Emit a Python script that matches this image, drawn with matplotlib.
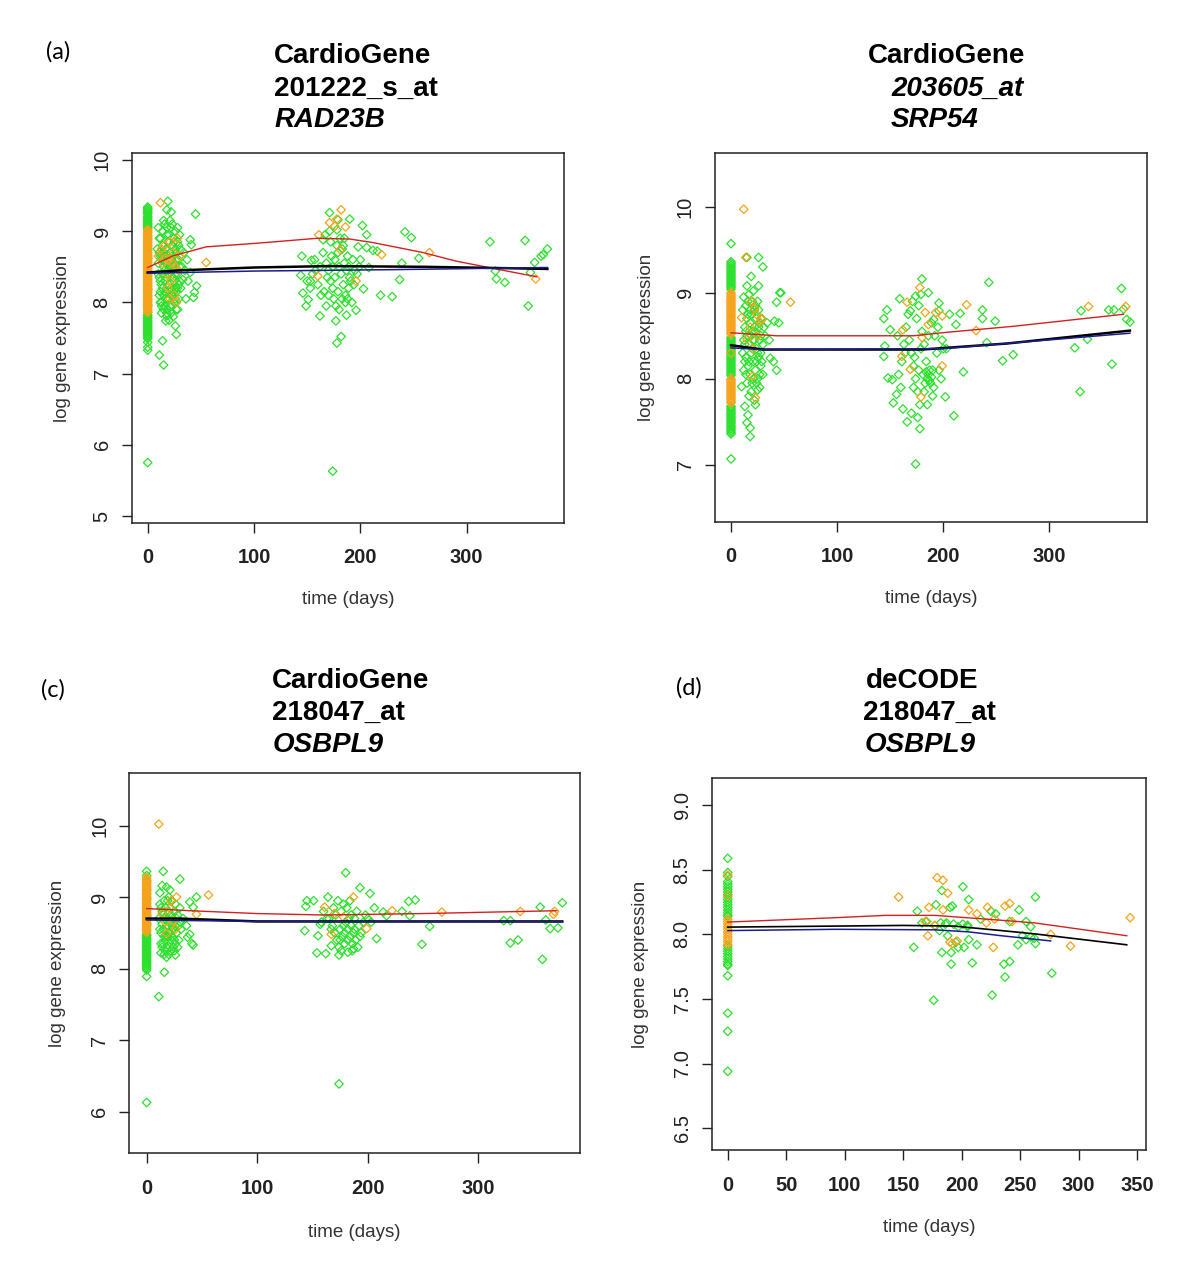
import numpy as np
import matplotlib
matplotlib.use("Agg")
import matplotlib.pyplot as plt

plt.rcParams["font.family"] = ["Liberation Sans", "DejaVu Sans"]

GREEN = "#2ee02e"
ORANGE = "#f5a31a"

# ---------------- panel (a): CardioGene 201222_s_at RAD23B ----------------
a_day0_green = [9.34, 9.32, 9.3, 9.28, 9.26, 9.24, 9.21, 9.19, 9.17, 9.15, 9.13, 9.11, 9.09,
                9.07, 9.05, 9.03, 8.62, 8.41, 8.18, 7.96, 7.86, 7.83, 7.81, 7.79, 7.77, 7.75,
                7.73, 7.71, 7.69, 7.67, 7.65, 7.63, 7.61, 7.59, 7.57, 7.55, 7.53, 7.51, 7.49,
                7.44, 7.37, 7.33, 5.75]
a_day0_orange = [9.02, 9.0, 8.98, 8.96, 8.94, 8.92, 8.9, 8.88, 8.86, 8.84, 8.82, 8.8, 8.78, 8.76,
                 8.74, 8.72, 8.7, 8.68, 8.66, 8.64, 8.62, 8.6, 8.58, 8.56, 8.54, 8.52, 8.5, 8.48,
                 8.46, 8.44, 8.42, 8.4, 8.38, 8.36, 8.34, 8.32, 8.3, 8.28, 8.26, 8.24, 8.22, 8.2,
                 8.18, 8.16, 8.14, 8.12, 8.1, 8.08, 8.06, 8.04, 8.02, 8.0, 7.98, 7.96, 7.94, 7.92,
                 7.9, 7.88, 7.86]
a_green = [(10, 9.05), (12, 8.9), (14, 8.8), (11, 8.7), (13, 8.6), (15, 8.5), (10, 8.4), (12, 8.3),
           (14, 8.2), (11, 8.1), (13, 8.0), (15, 7.9), (16, 9.1), (18, 8.95), (17, 8.75), (19, 8.65),
           (16, 8.45), (18, 8.35), (20, 8.25), (17, 8.15), (19, 8.05), (21, 7.95), (18, 7.85), (20, 7.75),
           (22, 9.05), (24, 8.9), (23, 8.8), (21, 8.7), (25, 8.55), (22, 8.45), (24, 8.35), (26, 8.2),
           (23, 8.1), (25, 8.0), (27, 7.9), (26, 9.0), (28, 8.85), (27, 8.7), (29, 8.6), (28, 8.4),
           (30, 8.3), (27, 8.15), (29, 8.05), (24, 7.8), (22, 8.6), (20, 8.5), (18, 8.55), (16, 8.65),
           (14, 8.4), (12, 8.0), (26, 8.75), (30, 8.95), (32, 8.5), (31, 8.2), (15, 9.15), (23, 9.1),
           (28, 9.05), (11, 7.26), (15, 7.12), (14, 7.46), (26, 7.67), (27, 7.55), (19, 9.42), (18, 9.30),
           (22, 9.27), (45, 9.24), (37, 8.6), (41, 8.81), (40, 8.42), (46, 8.23), (44, 8.14), (36, 8.05),
           (43, 8.07), (33, 8.32), (40, 8.88), (31, 8.74), (17, 7.74), (18, 7.81), (28, 7.9), (13, 7.85),
           (35, 8.45), (38, 8.3), (34, 8.7),
           (9, 8.75), (10, 8.55), (11, 8.35), (12, 8.15), (13, 7.95), (14, 9.0), (15, 8.7), (16, 8.3),
           (17, 8.05), (18, 9.05), (19, 8.85), (20, 8.4), (21, 8.15), (22, 7.85), (23, 8.65), (24, 8.5),
           (25, 8.3), (26, 8.05), (27, 8.6), (28, 8.2), (29, 8.8), (30, 8.5), (21, 9.15), (17, 8.55),
           (13, 8.25), (25, 8.85), (19, 8.45), (23, 7.95), (15, 8.1), (11, 8.9), (16, 7.95), (20, 8.95),
           (24, 8.15), (14, 8.65), (22, 8.2), (26, 8.4), (12, 8.65), (19, 7.9), (29, 8.25),
           (171, 9.26), (179, 9.16), (190, 9.17), (178, 9.02), (165, 8.88), (202, 9.08), (206, 8.95),
           (198, 8.78), (206, 8.77), (145, 8.65), (154, 8.59), (144, 8.38), (146, 8.13), (151, 8.04),
           (149, 7.95), (153, 8.3), (162, 7.81), (168, 7.95), (177, 7.74), (178, 7.43), (182, 7.52),
           (174, 5.63), (196, 7.89), (187, 7.82), (203, 8.19), (208, 8.49), (212, 8.73), (216, 8.72),
           (165, 8.7), (168, 8.55), (170, 8.45), (172, 8.3), (174, 8.2), (176, 8.6), (178, 8.8), (180, 8.5),
           (182, 8.4), (184, 8.25), (186, 8.1), (188, 8.65), (190, 8.35), (192, 8.0), (175, 8.05),
           (177, 7.95), (179, 8.15), (181, 8.9), (183, 8.75), (185, 8.55), (187, 8.45), (189, 8.2),
           (191, 8.3), (193, 8.6), (195, 8.45), (197, 8.4), (199, 8.5), (162, 8.5), (158, 8.45),
           (160, 8.25), (163, 8.1), (167, 8.95), (171, 9.0), (173, 8.65), (169, 8.35), (186, 8.0),
           (180, 7.9), (184, 8.8), (194, 8.25), (200, 8.6), (157, 8.6), (155, 8.4), (150, 8.3), (153, 8.2),
           (166, 8.15), (188, 8.05), (174, 8.5), (179, 8.7), (176, 8.35), (183, 8.05), (172, 8.85),
           (189, 8.5), (170, 8.1), (185, 8.9),
           (219, 8.1), (230, 8.08), (237, 8.32), (239, 8.55), (242, 8.99), (248, 8.91), (255, 8.62),
           (322, 8.85), (328, 8.33), (336, 8.28), (355, 8.87), (358, 7.95), (360, 8.42), (364, 8.56),
           (370, 8.65), (372, 8.67), (376, 8.75), (327, 8.44)]
a_orange = [(12, 9.40), (10, 8.65), (55, 8.56), (16, 8.8), (20, 8.6), (24, 8.7), (18, 8.4), (22, 8.3),
            (26, 8.5), (28, 8.9), (14, 8.55), (25, 8.1), (30, 8.65), (21, 8.85), (19, 8.2), (27, 8.0),
            (17, 8.62), (23, 8.55), (13, 8.75), (29, 8.45), (21, 8.05),
            (182, 9.3), (178, 9.17), (171, 9.12), (176, 9.07), (161, 8.95), (186, 9.06), (160, 8.37),
            (181, 8.74), (196, 8.3), (220, 8.67), (265, 8.7), (365, 8.33)]
a_red_x = [0, 24, 55, 102, 159, 190, 212, 259, 290, 331, 366]
a_red_y = [8.49, 8.655, 8.78, 8.83, 8.90, 8.89, 8.84, 8.70, 8.58, 8.46, 8.36]
a_black_x = [0, 30, 100, 170, 260, 340, 376]
a_black_y = [8.42, 8.45, 8.49, 8.51, 8.50, 8.48, 8.47]
a_blue_x = [0, 100, 230, 376]
a_blue_y = [8.41, 8.44, 8.46, 8.49]

# ---------------- panel (b): CardioGene 203605_at SRP54 ----------------
b_day0_green = [9.57, 9.36, 9.34, 9.32, 9.3, 9.28, 9.26, 9.24, 9.22, 9.2, 9.18, 9.16, 9.14, 9.12,
                9.1, 9.08, 9.06, 9.04, 8.48, 8.46, 8.44, 8.42, 8.4, 8.38, 8.36, 8.34, 8.32, 8.3,
                8.28, 8.26, 8.24, 8.22, 8.2, 8.18, 8.16, 8.14, 8.12, 8.1, 8.08, 8.06, 8.04, 7.68,
                7.66, 7.64, 7.62, 7.6, 7.58, 7.56, 7.54, 7.52, 7.5, 7.48, 7.46, 7.44, 7.42, 7.4,
                7.38, 7.36, 7.07]
b_day0_orange = [9.0, 8.98, 8.96, 8.94, 8.92, 8.9, 8.88, 8.86, 8.84, 8.82, 8.8, 8.78, 8.76, 8.74,
                 8.72, 8.7, 8.68, 8.66, 8.64, 8.62, 8.6, 8.58, 8.56, 8.54, 8.52, 8.3, 8.0, 7.98,
                 7.96, 7.94, 7.92, 7.9, 7.88, 7.86, 7.84, 7.82, 7.8, 7.78, 7.76, 7.74, 7.72]
b_green = [(15, 9.41), (26, 9.41), (30, 9.3), (19, 9.19), (15, 9.08), (26, 9.08), (43, 8.89), (46, 9.0),
           (47, 9.0), (41, 8.67), (45, 8.65), (37, 8.24), (40, 8.2), (43, 8.1), (10, 7.91), (19, 7.85),
           (13, 7.68), (16, 7.58), (15, 7.49), (18, 7.43), (18, 7.33), (23, 7.7), (25, 7.87), (27, 8.05),
           (24, 8.2), (12, 8.95), (14, 8.85), (16, 8.75), (18, 8.65), (20, 8.55), (22, 8.45), (24, 8.35),
           (26, 8.25), (28, 8.15), (30, 8.05), (13, 8.6), (15, 8.5), (17, 8.4), (19, 8.3), (21, 8.2),
           (23, 8.1), (25, 8.0), (27, 7.9), (29, 8.7), (31, 8.6), (20, 8.9), (22, 8.8), (24, 8.7),
           (26, 8.6), (28, 8.5), (30, 8.4), (14, 8.25), (16, 8.15), (18, 8.05), (20, 7.95), (12, 8.45),
           (14, 8.05), (22, 7.75), (17, 8.98), (21, 9.02), (25, 8.9), (28, 8.3), (32, 8.5), (34, 8.65),
           (36, 8.45), (11, 8.3), (13, 8.2), (19, 8.75), (23, 8.55), (27, 8.45), (15, 7.95), (17, 7.8),
           (11, 8.8), (13, 8.4), (15, 8.7), (17, 8.2), (19, 8.5), (21, 8.0), (23, 8.85), (25, 8.3),
           (27, 8.65), (29, 8.2), (16, 8.9), (20, 8.35), (24, 7.95), (18, 8.8), (22, 8.6), (12, 8.1),
           (26, 8.8), (14, 8.55), (28, 8.7), (21, 8.45),
           (180, 9.16), (186, 9.0), (174, 8.96), (179, 8.98), (159, 8.93), (147, 8.8), (144, 8.7),
           (169, 8.79), (196, 8.88), (196, 8.79), (191, 8.69), (206, 8.75), (216, 8.76), (212, 8.63),
           (237, 8.8), (237, 8.7), (249, 8.67), (243, 9.12), (241, 8.42), (256, 8.21), (266, 8.28),
           (219, 8.08), (202, 7.79), (210, 7.57), (178, 7.42), (174, 7.01), (166, 7.5), (153, 7.72),
           (156, 7.82), (152, 7.99), (148, 8.01), (144, 8.26), (145, 8.38), (150, 8.57),
           (165, 8.6), (168, 8.45), (170, 8.3), (172, 8.15), (174, 8.0), (176, 7.85), (178, 7.7),
           (180, 8.55), (182, 8.4), (184, 8.2), (186, 8.05), (188, 7.95), (190, 7.8), (192, 8.5),
           (194, 8.3), (196, 8.1), (198, 8.0), (185, 8.0), (187, 8.1), (183, 7.95), (181, 8.05),
           (189, 8.02), (191, 7.9), (175, 8.7), (177, 8.85), (171, 8.9), (167, 8.75), (163, 8.4),
           (161, 8.2), (158, 8.05), (160, 7.9), (162, 7.65), (170, 7.6), (176, 7.55), (179, 8.35),
           (173, 8.25), (195, 8.6), (199, 8.45), (200, 8.35), (203, 8.35), (157, 8.5), (164, 8.3),
           (186, 8.5), (189, 8.65), (182, 7.85), (185, 7.7), (184, 8.08), (187, 7.98), (190, 8.1),
           (177, 8.1), (172, 7.9),
           (324, 8.36), (329, 7.85), (330, 8.79), (336, 8.46), (359, 8.17), (356, 8.8), (361, 8.8),
           (368, 9.05), (373, 8.69), (376, 8.66), (370, 8.81)]
b_orange = [(12, 9.97), (14, 9.41), (10, 8.71), (56, 8.89), (22, 8.82), (29, 8.69), (27, 8.66),
            (23, 7.78), (15, 8.46), (20, 8.03), (18, 8.6), (25, 8.5), (21, 8.35), (24, 8.75), (19, 8.9),
            (178, 9.06), (166, 8.89), (162, 8.57), (183, 8.77), (186, 8.63), (193, 8.77), (199, 8.73),
            (161, 8.26), (169, 8.11), (199, 8.15), (179, 7.79), (222, 8.86), (231, 8.56), (337, 8.84),
            (372, 8.84), (180, 8.48)]
b_red_x = [0, 43, 172, 203, 266, 370]
b_red_y = [8.535, 8.50, 8.50, 8.54, 8.61, 8.75]
b_black_x = [0, 30, 180, 260, 376]
b_black_y = [8.39, 8.34, 8.34, 8.41, 8.56]
b_blue_x = [0, 30, 200, 376]
b_blue_y = [8.36, 8.34, 8.35, 8.53]

# ---------------- panel (c): CardioGene 218047_at OSBPL9 ----------------
c_day0_green = [9.36, 9.3, 9.22, 9.1, 8.98, 8.86, 8.74, 8.62, 8.48, 8.46, 8.44, 8.42, 8.4, 8.38,
                8.36, 8.34, 8.32, 8.3, 8.28, 8.26, 8.24, 8.22, 8.2, 8.18, 8.16, 8.14, 8.12, 8.1,
                8.08, 8.06, 8.04, 8.02, 8.0, 7.98, 7.89, 6.13]
c_day0_orange = [9.27, 9.25, 9.23, 9.21, 9.19, 9.17, 9.15, 9.13, 9.11, 9.09, 9.07, 9.05, 9.03,
                 9.01, 8.99, 8.97, 8.95, 8.93, 8.91, 8.89, 8.87, 8.85, 8.83, 8.81, 8.79, 8.77,
                 8.75, 8.73, 8.71, 8.69, 8.67, 8.65, 8.63, 8.61, 8.59, 8.57, 8.55, 8.53, 8.51]
c_green = [(15, 9.36), (30, 9.25), (11, 7.61), (16, 7.95), (26, 8.19), (18, 8.16), (13, 8.22), (36, 8.6),
           (37, 8.44), (41, 8.35), (42, 8.33), (39, 8.48), (39, 8.93), (42, 8.86), (45, 9.0), (33, 8.7),
           (18, 9.14), (14, 9.16), (21, 9.1), (12, 9.06), (12, 8.9), (14, 8.8), (16, 8.7), (18, 8.6),
           (20, 8.5), (22, 8.4), (24, 8.3), (26, 8.6), (28, 8.75), (30, 8.85), (13, 8.5), (15, 8.35),
           (17, 8.25), (19, 8.45), (21, 8.65), (23, 8.95), (25, 8.8), (27, 8.5), (29, 8.4), (31, 8.55),
           (14, 8.62), (16, 8.45), (18, 8.3), (20, 8.2), (22, 8.75), (24, 8.55), (26, 8.9), (28, 8.3),
           (30, 8.65), (17, 8.85), (19, 8.95), (21, 8.3), (23, 8.45), (25, 8.25), (15, 8.75), (13, 8.35),
           (11, 8.7), (13, 8.85), (15, 8.55), (17, 8.4), (19, 8.7), (21, 8.5), (23, 8.6), (25, 8.4),
           (27, 8.7), (29, 8.6), (16, 8.95), (20, 8.8), (24, 8.7), (18, 8.45), (22, 8.25), (14, 8.3),
           (26, 8.35), (12, 8.55), (20, 9.0), (16, 8.2),
           (180, 9.34), (193, 9.13), (202, 9.05), (145, 8.95), (151, 8.95), (164, 9.0), (144, 8.87),
           (143, 8.53), (154, 8.22), (162, 8.21), (167, 8.32), (174, 8.19), (182, 8.23), (187, 8.28),
           (157, 8.62), (155, 8.46), (206, 8.85), (208, 8.42), (214, 8.79), (217, 8.74), (231, 8.8),
           (237, 8.94), (243, 8.96), (238, 8.74), (249, 8.34), (256, 8.59), (174, 6.39),
           (165, 8.7), (168, 8.6), (170, 8.5), (172, 8.4), (174, 8.3), (176, 8.8), (178, 8.9), (180, 8.65),
           (182, 8.55), (184, 8.45), (186, 8.35), (188, 8.7), (190, 8.8), (192, 8.6), (194, 8.5),
           (196, 8.65), (198, 8.75), (175, 8.55), (177, 8.45), (179, 8.35), (181, 8.85), (183, 8.7),
           (185, 8.6), (187, 8.5), (189, 8.4), (191, 8.3), (193, 8.45), (171, 8.75), (169, 8.85),
           (167, 8.55), (163, 8.7), (160, 8.8), (158, 8.65), (186, 8.25), (176, 8.25), (200, 8.7),
           (203, 8.65), (173, 8.95), (184, 8.95), (178, 8.6), (182, 8.4), (188, 8.55), (175, 8.4),
           (185, 8.75), (179, 8.5),
           (323, 8.67), (329, 8.67), (329, 8.36), (336, 8.4), (356, 8.86), (361, 8.68), (358, 8.13),
           (365, 8.56), (372, 8.57), (376, 8.92)]
c_orange = [(11, 10.02), (56, 9.03), (45, 8.76), (21, 8.84), (24, 8.67), (18, 8.49), (27, 9.0),
            (14, 8.77), (17, 8.65), (22, 8.95), (26, 8.55),
            (161, 8.86), (187, 9.0), (167, 8.48), (199, 8.56), (222, 8.81), (267, 8.79),
            (338, 8.8), (369, 8.8), (368, 8.76), (178, 8.72), (170, 8.77)]
c_red_x = [0, 39, 100, 160, 250, 371]
c_red_y = [8.84, 8.81, 8.77, 8.75, 8.77, 8.81]
c_black_x = [0, 30, 100, 376]
c_black_y = [8.70, 8.70, 8.66, 8.66]
c_blue_x = [0, 100, 376]
c_blue_y = [8.68, 8.66, 8.655]

# ---------------- panel (d): deCODE 218047_at OSBPL9 ----------------
d_day0_green = [8.59, 8.48, 8.45, 8.41, 8.39, 8.37, 8.35, 8.33, 8.31, 8.29, 8.27, 8.25, 8.23,
                8.21, 8.19, 8.17, 8.15, 8.14, 7.91, 7.89, 7.87, 7.85, 7.83, 7.81, 7.79, 7.77,
                7.76, 7.68, 7.39, 7.25, 6.94]
d_day0_orange = [8.46, 8.3, 8.12, 8.1, 8.08, 8.06, 8.04, 8.02, 8.0, 7.98, 7.96, 7.94, 7.92]
d_green = [(159, 7.9), (162, 8.18), (170, 8.1), (166, 8.09), (176, 7.49), (178, 8.23), (183, 8.34),
           (181, 8.03), (183, 7.86), (186, 8.08), (188, 7.99), (190, 8.21), (192, 8.22), (191, 7.86),
           (191, 7.77), (195, 7.94), (197, 7.9), (201, 8.37), (202, 7.9), (205, 8.07), (206, 8.27),
           (206, 7.96), (209, 7.78), (213, 7.92), (216, 8.12), (225, 8.18), (226, 7.53), (229, 8.16),
           (236, 7.77), (237, 7.67), (241, 7.79), (241, 8.1), (248, 7.92), (249, 8.19), (252, 7.99),
           (255, 7.96), (255, 8.1), (259, 8.06), (263, 8.29), (263, 7.93), (277, 7.7), (177, 8.07),
           (182, 8.09), (187, 8.09), (193, 8.08), (197, 8.06), (201, 8.08), (205, 8.06), (259, 7.98),
           (262, 7.97)]
d_orange = [(146, 8.29), (179, 8.44), (184, 8.42), (188, 8.32), (172, 8.21), (171, 7.99), (184, 8.19),
            (190, 7.94), (192, 7.93), (196, 7.95), (206, 8.19), (213, 8.16), (221, 8.09), (222, 8.21),
            (227, 7.9), (228, 8.12), (237, 8.22), (241, 8.24), (243, 8.1), (276, 8.0), (293, 7.91),
            (344, 8.13), (177, 8.07), (169, 8.1)]
d_red_x = [0, 92, 135, 177, 234, 262, 341]
d_red_y = [8.096, 8.13, 8.148, 8.148, 8.11, 8.09, 7.99]
d_black_x = [0, 150, 193, 234, 262, 341]
d_black_y = [8.057, 8.07, 8.065, 8.03, 8.005, 7.92]
d_blue_x = [0, 92, 177, 206, 234, 276]
d_blue_y = [8.03, 8.04, 8.036, 8.02, 7.99, 7.95]

W, H = 1200, 1276
fig = plt.figure(figsize=(W / 100, H / 100), dpi=100)


def box(left, top, right, bottom):
    return [left / W, 1 - bottom / H, (right - left) / W, (bottom - top) / H]


def panel(rect, xlim, ylim, xticks, yticks, ylabels, day0_g, day0_o, green, orange,
          red, black, blue, ylab_x, black_lw=1.8):
    ax = fig.add_axes(rect)
    g = np.array(green).T
    o = np.array(orange).T
    kw = dict(marker="D", s=19, facecolors="none", linewidths=0.9)
    ax.scatter(np.zeros(len(day0_g)), day0_g, edgecolors=GREEN, **kw)
    ax.scatter(g[0], g[1], edgecolors=GREEN, **kw)
    ax.scatter(np.zeros(len(day0_o)), day0_o, edgecolors=ORANGE, **kw)
    ax.scatter(o[0], o[1], edgecolors=ORANGE, **kw)
    ax.plot(red[0], red[1], color="#d42020", lw=1.0)
    ax.plot(black[0], black[1], color="black", lw=black_lw)
    ax.plot(blue[0], blue[1], color="#1c1c8c", lw=1.1)
    ax.set_xlim(*xlim)
    ax.set_ylim(*ylim)
    ax.set_xticks(xticks)
    ax.set_xticklabels([str(t) for t in xticks], fontsize=14.5, fontweight="bold", color="#222222")
    ax.set_yticks(yticks)
    ax.set_yticklabels(ylabels, fontsize=14.5, rotation=90, va="center", color="#222222")
    ax.tick_params(direction="out", length=7.5, width=1.0, color="#222222")
    ax.tick_params(axis="x", pad=11)
    ax.tick_params(axis="y", pad=7)
    for sp in ax.spines.values():
        sp.set_linewidth(1.1)
        sp.set_color("#222222")
    ax.set_xlabel("time (days)", fontsize=13.5, color="#333333")
    ax.set_ylabel("log gene expression", fontsize=13.5, color="#333333")
    ax.xaxis.set_label_coords(0.5, -0.185)
    ax.yaxis.set_label_coords(ylab_x, 0.5)
    return ax


panel(box(131.7, 153.3, 564, 522.7), (-15.05, 391.6), (4.906, 10.094),
      [0, 100, 200, 300], [5, 6, 7, 8, 9, 10], ["5", "6", "7", "8", "9", "10"],
      a_day0_green, a_day0_orange, a_green, a_orange,
      (a_red_x, a_red_y), (a_black_x, a_black_y), (a_blue_x, a_blue_y), -0.14)
panel(box(715, 153.3, 1146.7, 521.7), (-15.1, 391.8), (6.34, 10.62),
      [0, 100, 200, 300], [7, 8, 9, 10], ["7", "8", "9", "10"],
      b_day0_green, b_day0_orange, b_green, b_orange,
      (b_red_x, b_red_y), (b_black_x, b_black_y), (b_blue_x, b_blue_y), -0.14)
panel(box(129.3, 773.3, 580, 1153.3), (-15.7, 392.0), (5.42, 10.73),
      [0, 100, 200, 300], [6, 7, 8, 9, 10], ["6", "7", "8", "9", "10"],
      c_day0_green, c_day0_orange, c_green, c_orange,
      (c_red_x, c_red_y), (c_black_x, c_black_y), (c_blue_x, c_blue_y), -0.14)
panel(box(711.7, 778.3, 1146, 1150), (-13.7, 357.5), (6.33, 9.21),
      [0, 50, 100, 150, 200, 250, 300, 350], [6.5, 7.0, 7.5, 8.0, 8.5, 9.0],
      ["6.5", "7.0", "7.5", "8.0", "8.5", "9.0"],
      d_day0_green, d_day0_orange, d_green, d_orange,
      (d_red_x, d_red_y), (d_black_x, d_black_y), (d_blue_x, d_blue_y), -0.145, black_lw=1.2)


def title_line(x, y, s, italic=False):
    fig.text(x / W, 1 - y / H, s, ha="left", va="center", fontsize=20,
             fontweight="bold", style="italic" if italic else "normal")


title_line(274, 56, "CardioGene")
title_line(274, 89, "201222_s_at")
title_line(275, 120, "RAD23B", italic=True)
title_line(868, 56, "CardioGene")
title_line(891, 89, "203605_at", italic=True)
title_line(891, 120, "SRP54", italic=True)
title_line(272, 681, "CardioGene")
title_line(272, 713, "218047_at")
title_line(273, 745, "OSBPL9", italic=True)
title_line(866, 681, "deCODE")
title_line(863, 713, "218047_at")
title_line(865, 745, "OSBPL9", italic=True)

for x, y, s in [(46, 52, "(a)"), (41, 690, "(c)"), (676, 688, "(d)")]:
    fig.text(x / W, 1 - y / H, s, ha="left", va="center", fontsize=17, family=["Lato", "DejaVu Sans"])

fig.savefig("out.png", dpi=100)
